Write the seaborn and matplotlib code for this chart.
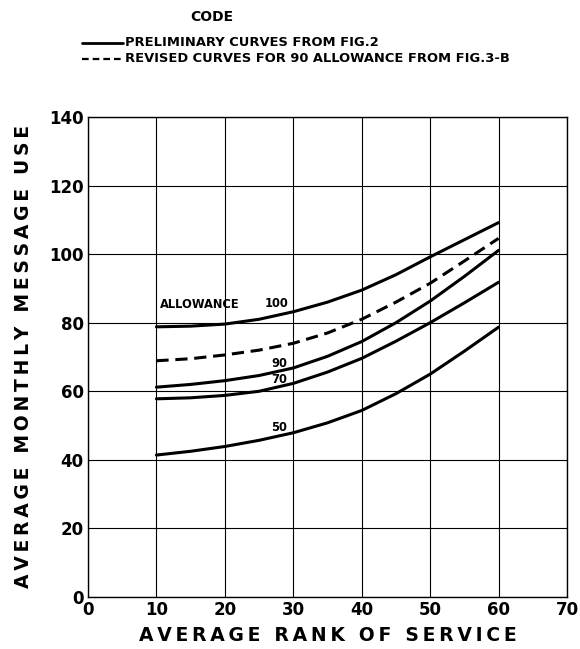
import matplotlib
matplotlib.use("Agg")
import matplotlib.pyplot as plt
import seaborn as sns
import pandas as pd

rank = [10, 15, 20, 25, 30, 35, 40, 45, 50, 55, 60]
allow_100 = [78.8, 79.0, 79.6, 81.0, 83.2, 86.0, 89.5, 94.0, 99.2, 104.2, 109.2]
revised_90 = [68.9, 69.5, 70.6, 72.0, 74.0, 77.0, 81.0, 86.0, 91.5, 98.0, 104.6]
allow_90 = [61.2, 62.0, 63.1, 64.6, 66.8, 70.2, 74.5, 80.0, 86.3, 93.5, 101.1]
allow_70 = [57.8, 58.1, 58.8, 60.0, 62.3, 65.6, 69.6, 74.6, 80.0, 85.8, 91.8]
allow_50 = [41.4, 42.5, 43.9, 45.7, 47.9, 50.8, 54.4, 59.3, 65.0, 71.7, 78.7]

x_ticks = [0, 10, 20, 30, 40, 50, 60, 70]
y_ticks = [0, 20, 40, 60, 80, 100, 120, 140]

sns.set_style("white")
plt.rcParams['font.family'] = ['DejaVu Sans']
plt.rcParams['font.weight'] = 'bold'
plt.rcParams['text.color'] = 'black'
plt.rcParams['axes.labelcolor'] = 'black'
plt.rcParams['xtick.color'] = 'black'
plt.rcParams['ytick.color'] = 'black'


def spaced(s):
    words = s.split(" ")
    return "\u2009\u00a0\u2009".join("\u2009".join(w) for w in words)


fig = plt.figure(figsize=(5.8, 6.49), dpi=100)
ax = fig.add_axes([88/580, 52/649, 479/580, 480/649])

frames = []
for name, vals, style in [("100", allow_100, "solid"), ("rev90", revised_90, "dashed"),
                          ("90", allow_90, "solid"), ("70", allow_70, "solid"),
                          ("50", allow_50, "solid")]:
    frames.append(pd.DataFrame({"rank": rank, "use": vals, "curve": name, "kind": style}))
df = pd.concat(frames, ignore_index=True)

for name, sub in df.groupby("curve", sort=False):
    ls = (0, (4, 2.2)) if sub["kind"].iloc[0] == "dashed" else "-"
    sns.lineplot(data=sub, x="rank", y="use", ax=ax, color="black", lw=2.2,
                 linestyle=ls, legend=False)

ax.set_xlim(0, 70)
ax.set_ylim(0, 140)
ax.set_xticks(x_ticks)
ax.set_yticks(y_ticks)
ax.grid(True, color="black", lw=0.8)
ax.set_axisbelow(True)
for s in ax.spines.values():
    s.set_color("black")
    s.set_linewidth(1.0)
ax.tick_params(length=0, labelsize=12, pad=3, colors="black")
for lab in ax.get_xticklabels() + ax.get_yticklabels():
    lab.set_fontweight("bold")

ax.set_xlabel(spaced("AVERAGE RANK OF SERVICE"), fontsize=13.5,
              fontweight="bold", labelpad=5, color="black")
ax.set_ylabel(spaced("AVERAGE MONTHLY MESSAGE USE"), fontsize=13.5,
              fontweight="bold", labelpad=12, color="black")

ax.text(10.5, 85.3, "ALLOWANCE", fontsize=8.3, fontweight="bold", va="center", ha="left")
ax.text(27.5, 85.5, "100", fontsize=8.3, fontweight="bold", va="center", ha="center")
ax.text(27.9, 68.1, "90", fontsize=8.3, fontweight="bold", va="center", ha="center")
ax.text(27.9, 63.3, "70", fontsize=8.3, fontweight="bold", va="center", ha="center")
ax.text(27.9, 49.4, "50", fontsize=8.3, fontweight="bold", va="center", ha="center")

# code / legend
fig.text(212/580, 1 - 17/649, "CODE", fontsize=10, fontweight="bold", ha="center", va="center")
fig.add_artist(plt.Line2D([82/580, 123/580], [1 - 43/649, 1 - 43/649], color="black", lw=2))
fig.add_artist(plt.Line2D([82/580, 123/580], [1 - 59/649, 1 - 59/649], color="black", lw=1.6,
                          linestyle=(0, (3.0, 1.8))))
fig.text(125/580, 1 - 43/649, "PRELIMINARY CURVES FROM FIG.2", fontsize=9.4, fontweight="bold",
         ha="left", va="center")
fig.text(125/580, 1 - 59/649, "REVISED CURVES FOR 90 ALLOWANCE FROM FIG.3-B", fontsize=9.4,
         fontweight="bold", ha="left", va="center")

fig.savefig("out.png", dpi=100, facecolor="white")
